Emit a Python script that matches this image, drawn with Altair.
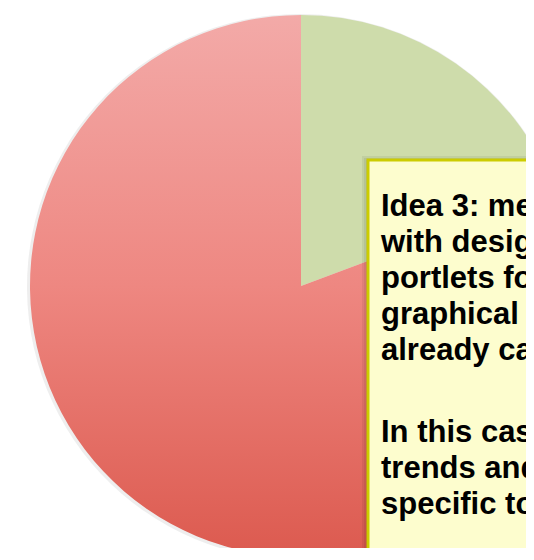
import altair as alt
import pandas as pd

# ---- data ----
slices = ["Idea 3", "Other"]
shares = [19.3, 80.7]
order_idx = [0, 1]

para1 = ["Idea 3: merge", "with designated", "portlets for", "graphical elements", "already captured"]
para2 = ["In this case,", "trends and", "specific to"]

pie_df = pd.DataFrame({"slice": slices, "share": shares, "idx": order_idx})
text_df = pd.DataFrame({
    "txt": ["\n".join(para1), "\n".join(para2)],
    "para": [1, 2],
})

W, H = 518, 540
CX, CY, R = 293, 278, 271

red_gradient = {
    "gradient": "linear",
    "x1": 0, "y1": 0, "x2": 0, "y2": 1,
    "stops": [
        {"offset": 0.0, "color": "#f3aaa8"},
        {"offset": 0.5, "color": "#ee8781"},
        {"offset": 1.0, "color": "#dc5a4f"},
    ],
}

base_pie = alt.Chart(pie_df)

pie_shadow = base_pie.mark_arc(outerRadius=R + 2, clip=True, opacity=0.10, color="#555555").encode(
    theta=alt.Theta("share:Q", stack=True),
    order=alt.Order("idx:O"),
    x=alt.value(CX - 1),
    y=alt.value(CY + 1),
)

pie = base_pie.mark_arc(outerRadius=R, clip=True).encode(
    theta=alt.Theta("share:Q", stack=True),
    order=alt.Order("idx:O"),
    x=alt.value(CX),
    y=alt.value(CY),
    fill=alt.condition(alt.datum.slice == "Other", alt.value(red_gradient), alt.value("#cedcab")),
)

BX, BY = 360, 152

box_shadows = []
for i, op in enumerate([0.06, 0.06, 0.06]):
    d = (i + 1) * 2
    box_shadows.append(
        alt.Chart(pie_df.head(1)).mark_rect(clip=True, color="#000000", opacity=op).encode(
            x=alt.value(BX - d),
            x2=alt.value(W + 50),
            y=alt.value(BY - d + 2),
            y2=alt.value(H + 50),
        )
    )

box = alt.Chart(pie_df.head(1)).mark_rect(
    clip=True, fill="#fdfdce", stroke="#cccc00", strokeWidth=3
).encode(
    x=alt.value(BX),
    x2=alt.value(W + 50),
    y=alt.value(BY),
    y2=alt.value(H + 50),
)

txt_common = dict(
    align="left", baseline="alphabetic", font="Liberation Sans", fontWeight="bold",
    fontSize=31, lineHeight=36, lineBreak="\n", color="#000000", clip=True,
)

t1 = alt.Chart(text_df).transform_filter(alt.datum.para == 1).mark_text(**txt_common).encode(
    text="txt:N", x=alt.value(373), y=alt.value(208)
)
t2 = alt.Chart(text_df).transform_filter(alt.datum.para == 2).mark_text(**txt_common).encode(
    text="txt:N", x=alt.value(373), y=alt.value(434)
)

chart = alt.layer(pie_shadow, pie, *box_shadows, box, t1, t2).properties(
    width=W, height=H, padding=0, autosize=alt.AutoSizeParams(type="none"),
    background="#ffffff",
).configure_view(stroke=None)

chart.save("out.html", embed_options={"renderer": "svg", "actions": False})
